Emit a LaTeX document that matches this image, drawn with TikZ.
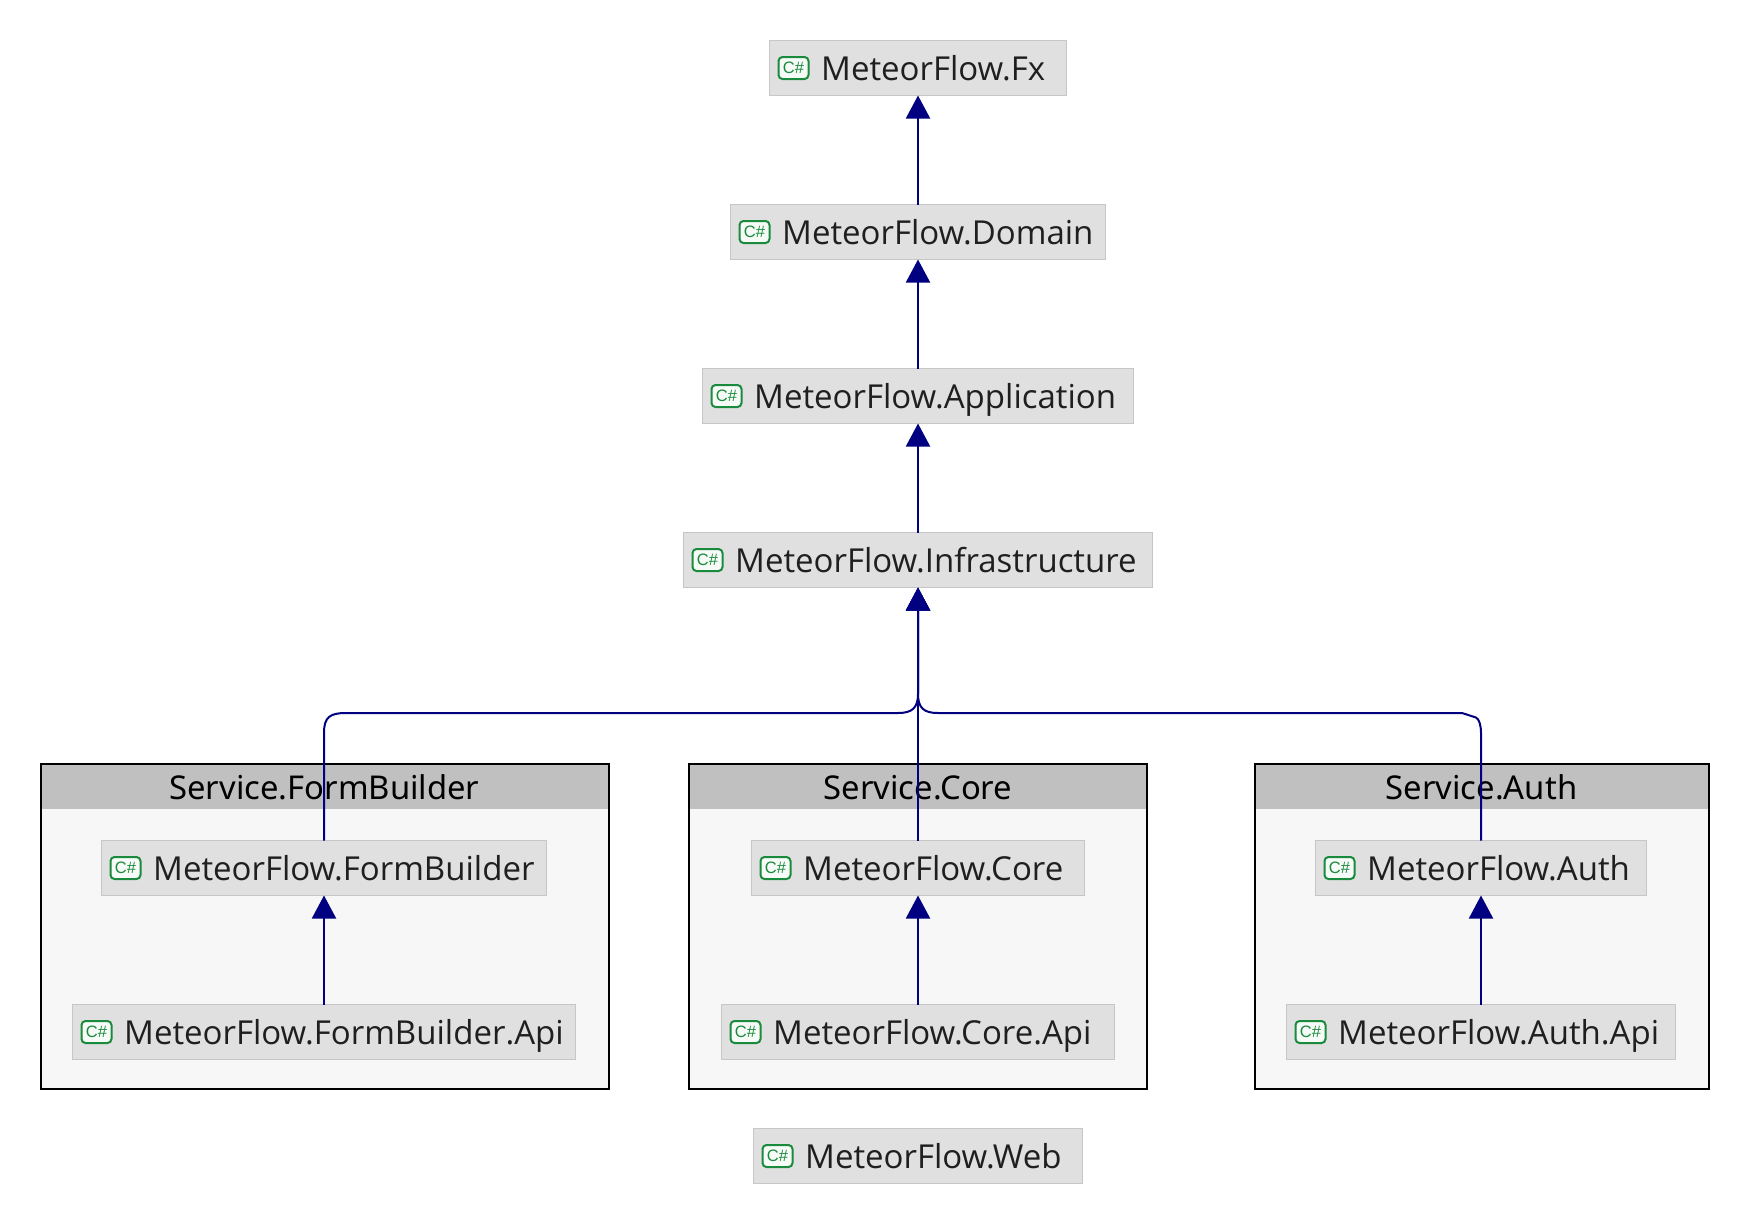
\documentclass[tikz,border=0pt]{standalone}
\usepackage{fontspec}
\setmainfont{Open Sans}
\newfontfamily\headfont{Noto Sans}
\newfontfamily\iconfont{Liberation Sans}
\usetikzlibrary{positioning}
\usetikzlibrary{arrows.meta}
\definecolor{depblue}{HTML}{000080}
\definecolor{boxgray}{HTML}{E0E0E0}
\definecolor{boxline}{HTML}{C6C6C6}
\definecolor{iconGreen}{HTML}{1A8A3C}
\definecolor{iconfill}{HTML}{F6FBF7}
\definecolor{labeltext}{HTML}{1F1F1F}
\definecolor{clusterfill}{HTML}{F7F7F7}
\definecolor{clusterhead}{HTML}{C0C0C0}
\tikzset{
  projbox/.style={draw=boxline,fill=boxgray,line width=1.5pt,minimum height=55pt,inner sep=0pt,outer sep=0pt},
  csicon/.style={draw=iconGreen,fill=iconfill,line width=2pt,rounded corners=4pt,minimum width=30pt,minimum height=22pt,inner sep=0pt,text=iconGreen,font=\iconfont\fontsize{16.5}{16.5}\selectfont},
  projlabel/.style={text=labeltext,inner sep=0pt,anchor=base west,font=\fontsize{33}{40}\selectfont},
  clusterbox/.style={draw=black,fill=clusterfill,line width=2pt,inner sep=0pt,outer sep=0pt},
  headbox/.style={fill=clusterhead,minimum height=44pt,text height=24pt,text depth=0pt,inner sep=0pt,outer sep=0pt,anchor=north,font=\headfont\fontsize{32.8}{38}\selectfont},
  dep/.style={draw=depblue,line width=2pt,-{Triangle[length=23pt,width=24pt,fill=depblue]}}
}
% name, centre x, centre y, width, text
\newcommand{\projnode}[5]{
  \node [projbox,minimum width=#4pt] (#1) at (#2,#3) {};
  \node [csicon,right=8pt of #1.west] (#1icon) {C\#};
  \node [projlabel] (#1label) at ([xshift=51.5pt,yshift=-12.5pt]#1.west) {#5};
}
\begin{document}
\begin{tikzpicture}[x=1pt,y=-1pt]
\useasboundingbox (0,0) rectangle (1748,1224);

% service groups
\node [clusterbox,minimum width=568pt,minimum height=325pt] (fbgroup) at (324.5,926.5) {};
\node [headbox,minimum width=566pt,yshift=-1pt] (fbhead) at (fbgroup.north) {Service.FormBuilder};
\node [clusterbox,minimum width=458pt,minimum height=325pt] (coregroup) at (918,926.5) {};
\node [headbox,minimum width=456pt,yshift=-1pt] (corehead) at (coregroup.north) {Service.Core};
\node [clusterbox,minimum width=454pt,minimum height=325pt] (authgroup) at (1481.5,926.5) {};
\node [headbox,minimum width=452pt,yshift=-1pt] (authhead) at (authgroup.north) {Service.Auth};

\projnode{fx}{918}{68}{297}{MeteorFlow.Fx}
\projnode{domain}{918}{232}{375}{MeteorFlow.Domain}
\projnode{application}{918}{396}{431}{MeteorFlow.Application}
\projnode{infra}{918}{560}{469}{MeteorFlow.Infrastructure}
\projnode{formbuilder}{324}{868}{445}{MeteorFlow.FormBuilder}
\projnode{formbuilderapi}{324}{1032}{503}{MeteorFlow.FormBuilder.Api}
\projnode{core}{918}{868}{333}{MeteorFlow.Core}
\projnode{coreapi}{918}{1032}{393}{MeteorFlow.Core.Api}
\projnode{auth}{1481}{868}{331}{MeteorFlow.Auth}
\projnode{authapi}{1481}{1032}{389}{MeteorFlow.Auth.Api}
\projnode{web}{918}{1156}{329}{MeteorFlow.Web}

\draw [dep] (domain.north) -- (fx.south);
\draw [dep] (application.north) -- (domain.south);
\draw [dep] (infra.north) -- (application.south);
\draw [dep] (core.north) -- (infra.south);
\draw [dep] (formbuilder.north) -- (324,733) .. controls (324,717) and (330,713) .. (346,713) -- (898,713) .. controls (912,713) and (918,708) .. (918,694) -- (infra.south);
\draw [dep] (auth.north) -- (1481,733) .. controls (1481,725) and (1479,719) .. (1476,717.5) -- (1462,713) -- (938,713) .. controls (924,713) and (918,708) .. (918,694) -- (infra.south);
\draw [dep] (formbuilderapi.north) -- (formbuilder.south);
\draw [dep] (coreapi.north) -- (core.south);
\draw [dep] (authapi.north) -- (auth.south);
\end{tikzpicture}
\end{document}
